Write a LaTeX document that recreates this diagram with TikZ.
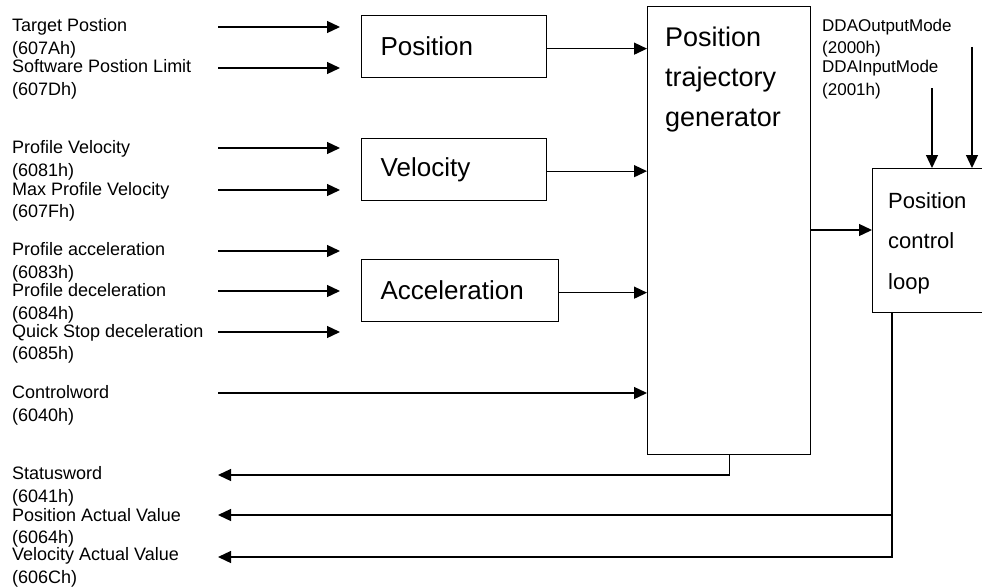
\documentclass[tikz,border=0pt]{standalone}
\usepackage{fontspec}
\setmainfont{Liberation Sans}
\usetikzlibrary{arrows.meta}
\begin{document}
\begin{tikzpicture}[x=1pt,y=-1pt,
  lbl/.style={anchor=base west, inner sep=0pt, font=\fontsize{18}{22}\selectfont},
  ddalbl/.style={anchor=base west, inner sep=0pt, font=\fontsize{17}{22}\selectfont},
  blk/.style={draw, line width=1.3pt, rectangle, inner sep=0pt, anchor=north west},
  smallblk/.style={blk, minimum height=62pt, inner xsep=19pt, align=left, font=\fontsize{26}{30}\selectfont},
  arr/.style={line width=1.3pt, -{Triangle[length=13pt,width=12pt]}},
  blocktext/.style={anchor=north west, inner sep=0pt, align=left}]
\useasboundingbox (0,0) rectangle (982,586);

% blocks
\node[blk, minimum width=163pt, minimum height=448pt] (main) at (647,6) {};
\node[blocktext, font=\fontsize{27}{40}\selectfont] (maintxt) at (665,26.7) {Position\\trajectory\\generator};
\node[smallblk, text width=147pt] (pos) at (361,15) {Position};
\node[smallblk, text width=147pt] (vel) at (361,138) {Velocity};
\node[smallblk, text width=159pt] (acc) at (361,259) {Acceleration};
\node[blk, minimum width=150pt, minimum height=144pt] (pcl) at (872,168) {};
\node[blocktext, font=\fontsize{22}{40.5}\selectfont] (pcltxt) at (888,192.2) {Position\\control\\loop};

% left labels
\node[lbl] (l1) at (12,32) {Target Postion};
\node[lbl] (l1c) at (12,55) {(607Ah)};
\node[lbl] (l2) at (12,72) {Software Postion Limit};
\node[lbl] (l2c) at (12,95) {(607Dh)};
\node[lbl] (l3) at (12,153) {Profile Velocity};
\node[lbl] (l3c) at (12,176) {(6081h)};
\node[lbl] (l4) at (12,195) {Max Profile Velocity};
\node[lbl] (l4c) at (12,217) {(607Fh)};
\node[lbl] (l5) at (12,255) {Profile acceleration};
\node[lbl] (l5c) at (12,278) {(6083h)};
\node[lbl] (l6) at (12,296) {Profile deceleration};
\node[lbl] (l6c) at (12,319) {(6084h)};
\node[lbl] (l7) at (12,337) {Quick Stop deceleration};
\node[lbl] (l7c) at (12,359) {(6085h)};
\node[lbl] (l8) at (12,398) {Controlword};
\node[lbl] (l8c) at (12,421) {(6040h)};
\node[lbl] (l9) at (12,479) {Statusword};
\node[lbl] (l9c) at (12,502) {(6041h)};
\node[lbl] (l10) at (12,521) {Position Actual Value};
\node[lbl] (l10c) at (12,543) {(6064h)};
\node[lbl] (l11) at (12,560) {Velocity Actual Value};
\node[lbl] (l11c) at (12,583) {(606Ch)};

% DDA labels
\node[ddalbl] (ddao) at (822,32) {DDAOutputMode};
\node[ddalbl] (ddaoc) at (822,54) {(2000h)};
\node[ddalbl] (ddai) at (822,72) {DDAInputMode};
\node[ddalbl] (ddaic) at (822,95) {(2001h)};

% input arrows
\foreach \yy/\n in {27/a,68/b,148/c,190/d,251/e,291/f,332/g} {
  \coordinate (s\n) at (218,\yy);
  \coordinate (e\n) at (340,\yy);
  \draw[arr] (s\n) -- (e\n);
}
\coordinate (sh) at (218,393);
\draw[arr] (sh) -- (sh -| main.west);

% blocks to generator
\draw[arr] ([yshift=-2pt]pos.east) -- ([yshift=-2pt]pos.east -| main.west);
\draw[arr] ([yshift=-1.5pt]vel.east) -- ([yshift=-1.5pt]vel.east -| main.west);
\draw[arr] ([yshift=-2pt]acc.east) -- ([yshift=-2pt]acc.east -| main.west);

% generator to control loop
\coordinate (lv) at (0,230);
\draw[arr] (main.east |- lv) -- (pcl.west |- lv);

% DDA arrows
\coordinate (dOut) at (972,47);
\coordinate (dIn) at (932,88);
\draw[arr] (dOut) -- (dOut |- pcl.north);
\draw[arr] (dIn) -- (dIn |- pcl.north);

% feedback outputs
\coordinate (stat) at (218,475);
\coordinate (pav) at (218,515);
\coordinate (vav) at (218,557);
\coordinate (fb) at (892,0);
\draw[arr] (main.south) |- (stat);
\draw[arr] (pcl.south -| fb) |- (vav);
\draw[arr] (fb |- pav) -- (pav);
\end{tikzpicture}
\end{document}
